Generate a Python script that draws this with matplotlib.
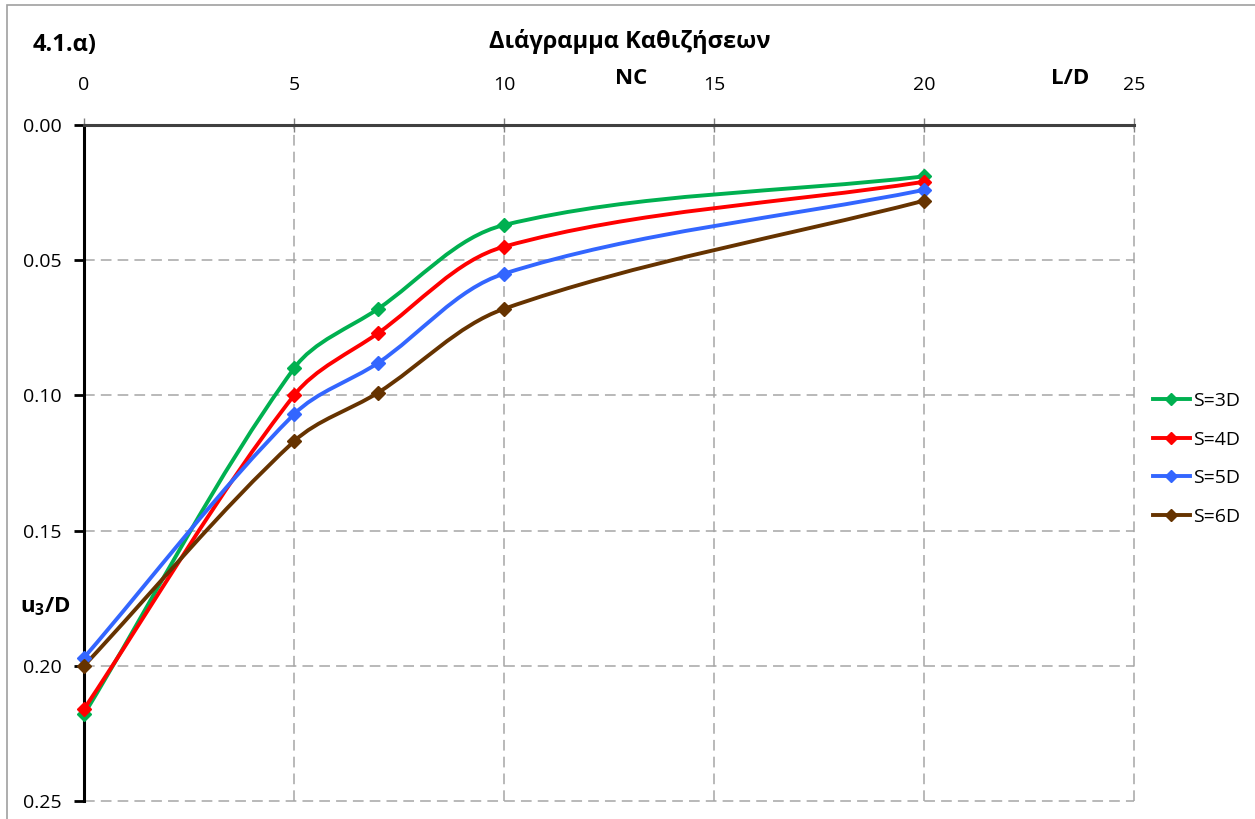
import numpy as np
import matplotlib
matplotlib.use("Agg")
import matplotlib.pyplot as plt
from matplotlib.path import Path
from matplotlib.patches import PathPatch
from matplotlib.lines import Line2D

plt.rcParams['font.family'] = ['Open Sans', 'DejaVu Sans']
plt.rcParams['mathtext.fontset'] = 'custom'
plt.rcParams['mathtext.bf'] = 'Open Sans:bold'
plt.rcParams['mathtext.rm'] = 'Open Sans'

# Settlement data: pile length ratio vs normalised settlement
L_D = [0, 5, 7, 10, 20]
series_labels = ["S=3D", "S=4D", "S=5D", "S=6D"]
s3d = [0.218, 0.090, 0.068, 0.037, 0.019]
s4d = [0.216, 0.100, 0.077, 0.045, 0.021]
s5d = [0.197, 0.107, 0.088, 0.055, 0.024]
s6d = [0.200, 0.117, 0.099, 0.068, 0.028]
series_values = [s3d, s4d, s5d, s6d]
colors = ["#00B050", "#FF0000", "#3366FF", "#663300"]

x_ticks = [0, 5, 10, 15, 20, 25]
y_ticks = [0.00, 0.05, 0.10, 0.15, 0.20, 0.25]


def smooth_path(ax, xs, ys):
    """Smoothed Bezier path through the points, built in display space so
    that handle lengths follow the on-screen segment lengths."""
    trans = ax.transData
    pts = trans.transform(np.column_stack([xs, ys]).astype(float))
    n = len(pts)
    verts = [pts[0]]
    codes = [Path.MOVETO]
    seg = [np.hypot(*(pts[i + 1] - pts[i])) for i in range(n - 1)]
    for i in range(n - 1):
        p1, p2 = pts[i], pts[i + 1]
        d12 = seg[i]
        if i > 0:
            d01 = seg[i - 1]
            c1 = p1 + (p2 - pts[i - 1]) * d12 / (d01 + d12) / 3.0
        else:
            c1 = p1 + (p2 - p1) / 3.0
        if i + 2 < n:
            d23 = seg[i + 1]
            c2 = p2 - (pts[i + 2] - p1) * d12 / (d12 + d23) / 3.0
        else:
            c2 = p2 - (p2 - p1) / 3.0
        verts += [c1, c2, p2]
        codes += [Path.CURVE4] * 3
    verts = trans.inverted().transform(np.array(verts))
    return Path(verts, codes)


W, H = 1255, 819
fig = plt.figure(figsize=(W / 100, H / 100), dpi=100)

# chart area border
fig.add_artist(plt.Rectangle((7 / W, -0.1), 1.2, 1.1 - 5 / H, transform=fig.transFigure,
                             fill=False, edgecolor="#A0A0A0", linewidth=1.2))

ax = fig.add_axes([84 / W, 1 - 801 / H, (1134 - 84) / W, (801 - 125) / H])
ax.set_xlim(0, 25)
ax.set_ylim(0.25, 0.0)
ax.xaxis.tick_top()
ax.set_xticks(x_ticks)
ax.set_yticks(y_ticks)
ax.set_yticklabels([f"{v:.2f}" for v in y_ticks])
ax.tick_params(axis='x', direction='inout', length=10, width=1, color="#808080",
               labelsize=14, pad=17)
ax.tick_params(axis='y', direction='out', length=7, width=2, color="black",
               labelsize=14, pad=9)

ax.grid(True, color="#A6A6A6", linestyle=(0, (7, 4)), linewidth=1.1)
for gl in ax.get_xgridlines() + ax.get_ygridlines():
    gl.set_clip_on(False)
for side in ("right", "bottom"):
    ax.spines[side].set_visible(False)
ax.spines["left"].set_linewidth(2.2)
ax.spines["left"].set_color("black")
ax.spines["top"].set_linewidth(2.2)
ax.spines["top"].set_color("#404040")

handles = []
for lab, vals, col in zip(series_labels, series_values, colors):
    patch = PathPatch(smooth_path(ax, L_D, vals), facecolor="none", edgecolor=col,
                      linewidth=2.8, zorder=3, capstyle="round")
    ax.add_patch(patch)
    ax.plot(L_D, vals, linestyle="none", marker="D", markersize=7, color=col,
            zorder=4, clip_on=False)
    handles.append(Line2D([], [], color=col, linewidth=2.8, marker="D", markersize=6))

leg = ax.legend(handles, series_labels, loc="center left", bbox_to_anchor=(1.005, 0.506),
                frameon=False, fontsize=14, handlelength=1.9, handletextpad=0.15,
                labelspacing=1.06, borderaxespad=0.3)

fig.text(630 / W, 1 - 42 / H, "Διάγραμμα Καθιζήσεων", ha="center", va="center",
         fontsize=17, fontweight="bold")
fig.text(33 / W, 1 - 45 / H, "4.1.α)", ha="left", va="center", fontsize=17,
         fontweight="bold")
fig.text(631 / W, 1 - 79 / H, "NC", ha="center", va="center", fontsize=16,
         fontweight="bold")
fig.text(1070 / W, 1 - 78 / H, "L/D", ha="center", va="center", fontsize=16,
         fontweight="bold")
fig.text(45 / W, 1 - 607 / H, r"u$_{\mathbf{3}}$/D", ha="center", va="center",
         fontsize=16, fontweight="bold")

fig.savefig("out.png", dpi=100)
